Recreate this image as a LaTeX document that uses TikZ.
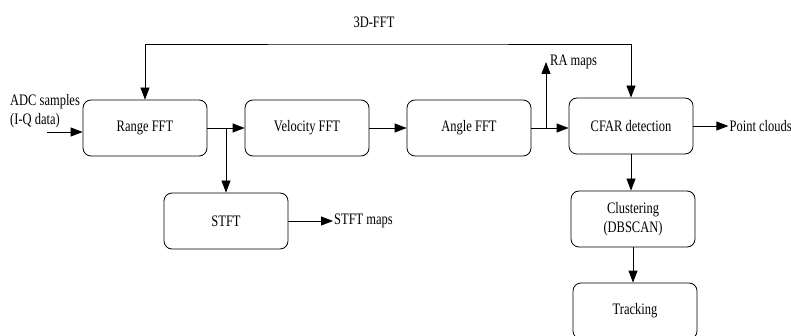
\documentclass[tikz,border=0pt]{standalone}
\usepackage{fontspec}
\setmainfont[FakeStretch=0.78]{Liberation Serif}
\usetikzlibrary{shapes,arrows.meta,calc}
\tikzstyle{block} = [rectangle, draw, line width=0.8pt, align=center,
    rounded corners=8pt, minimum width=124pt, minimum height=56pt, inner sep=0pt]
\tikzstyle{line} = [draw, line width=0.8pt, -{Triangle[length=12pt,width=9pt]}]
\tikzstyle{label} = [inner sep=1pt, align=left]

\begin{document}
\begin{tikzpicture}[x=1pt, y=-1pt, node distance=162pt, auto, font=\fontsize{16}{19}\selectfont]
    \useasboundingbox (0,0) rectangle (791,336);
    % Place nodes
    \node [block] (range) at (145,128) {Range FFT};
    \node [block, right of=range] (velocity) {Velocity FFT};
    \node [block, right of=velocity] (angle) {Angle FFT};
    \node [block, right of=angle, yshift=2pt] (cfar) {CFAR detection};
    \node [block, below of=range, node distance=93pt, xshift=81pt] (stft) {STFT};
    \node [block, below of=cfar, node distance=93pt, xshift=2pt] (cluster) {Clustering\\(DBSCAN)};
    \node [block, below of=cluster, node distance=92pt, xshift=2pt] (tracking) {Tracking};
    % Outside labels
    \node [label, anchor=west] (adc) at (9,111) {ADC samples\\(I-Q data)};
    \node [label, anchor=west] (stftmaps) at (333,221) {STFT maps};
    \node [label, anchor=west] (ramaps) at (549,62) {RA maps};
    \node [label, anchor=west] (points) at (cfar.east) [xshift=35pt] {Point clouds};
    \node [label] (fftlabel) at (374,22) {3D-FFT};
    \coordinate (adcin) at (47,132);
    \coordinate (fftbar) at (388,44);
    \coordinate (split1) at ($(range.east)!0.5!(velocity.west)$);
    \coordinate (split2) at (546,128);
    % Draw edges
    \path [line] (adcin) -- (adcin -| range.west);
    \path [line] (range.east) -- (velocity.west);
    \path [line] (split1) -- (stft.north);
    \path [line] (stft.east) -- (stftmaps.west);
    \path [line] (velocity.east) -- (angle.west);
    \path [line] (angle.east) -- (angle.east -| cfar.west);
    \path [line] (split2) -- (split2 |- ramaps.west);
    \path [line] (cfar.east) -- (points.west);
    \path [line] (cfar.south) -- (cfar.south |- cluster.north);
    \path [line] (cluster.south) -- (cluster.south |- tracking.north);
    \path [line, {Triangle[length=12pt,width=9pt]}-{Triangle[length=12pt,width=9pt]}]
        (range.north) |- (fftbar) -| (cfar.north);

\end{tikzpicture}
\end{document}
